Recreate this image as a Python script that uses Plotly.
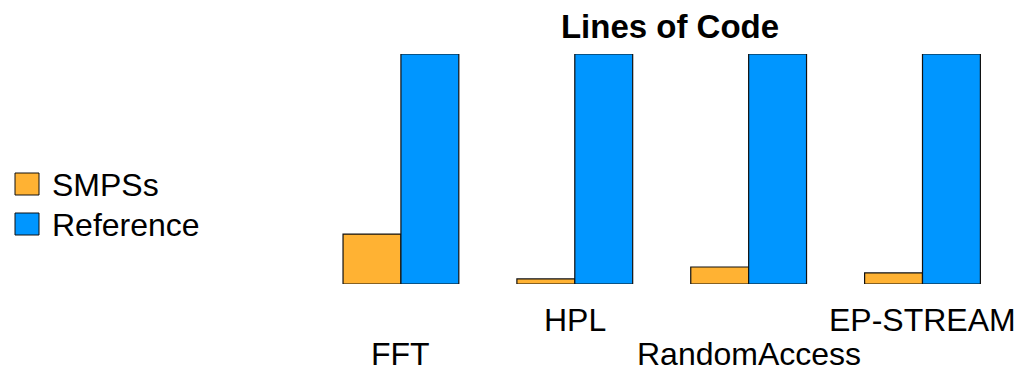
import plotly.graph_objects as go

categories = ["FFT", "HPL", "RandomAccess", "EP-STREAM"]
label_row = [1, 0, 1, 0]  # staggered category labels: 0 = upper row, 1 = lower row
series_names = ["SMPSs", "Reference"]
smpss = [21.7, 2.2, 7.4, 4.8]
reference = [100, 100, 100, 100]
colors = ["#FFB233", "#0096FF"]

FONT = "Liberation Sans, Arial, sans-serif"

fig = go.Figure()
for name, vals, col in zip(series_names, [smpss, reference], colors):
    fig.add_trace(go.Bar(
        x=categories, y=vals, name=name, marker_color=col,
        marker_line_color="#111111", marker_line_width=1.2, showlegend=False,
    ))

OFF = 8  # page body margin offset
W, H = 1022, 370
ml, mr, mt, mb = 314 - OFF, 12, 54 - OFF, 370 - (284 - OFF)
PH = H - mt - mb
PW = W - ml - mr


def py(pix):  # screen pixel y (from top) -> paper y
    return (H - mb - (pix - OFF)) / PH


def px(pix):  # screen pixel x -> paper x
    return (pix - OFF - ml) / PW


fig.update_layout(
    width=W, height=H,
    margin=dict(l=ml, r=mr, t=mt, b=mb, autoexpand=False),
    barmode="group", bargap=0.334, bargroupgap=0,
    plot_bgcolor="white", paper_bgcolor="white",
    font=dict(family=FONT, size=31, color="black"),
    title=dict(text="<b>Lines of Code</b>", x=(670 - OFF) / W, xanchor="center",
               y=1 - (26 - OFF) / H, yanchor="middle", font=dict(size=33)),
    xaxis=dict(showticklabels=False, showline=False, showgrid=False,
               zeroline=False, ticks=""),
    yaxis=dict(range=[0, 100], visible=False),
)

# staggered category labels
for cat, row in zip(categories, label_row):
    fig.add_annotation(text=cat, x=cat, xref="x", yref="paper",
                       y=py(320 + 34 * row), yanchor="middle",
                       showarrow=False, font=dict(size=32))

# Manual legend (larger swatches like the reference)
for i, (name, col) in enumerate(zip(series_names, colors)):
    yc = 184 + i * 40
    fig.add_shape(type="rect", xref="paper", yref="paper",
                  x0=px(15), x1=px(39), y0=py(yc + 11), y1=py(yc - 11),
                  fillcolor=col, line=dict(color="#111111", width=1))
    fig.add_annotation(text=name, xref="paper", yref="paper",
                       x=px(50), xanchor="left", y=py(yc + 1), yanchor="middle",
                       showarrow=False, font=dict(size=32))

fig.write_html("out.html")
